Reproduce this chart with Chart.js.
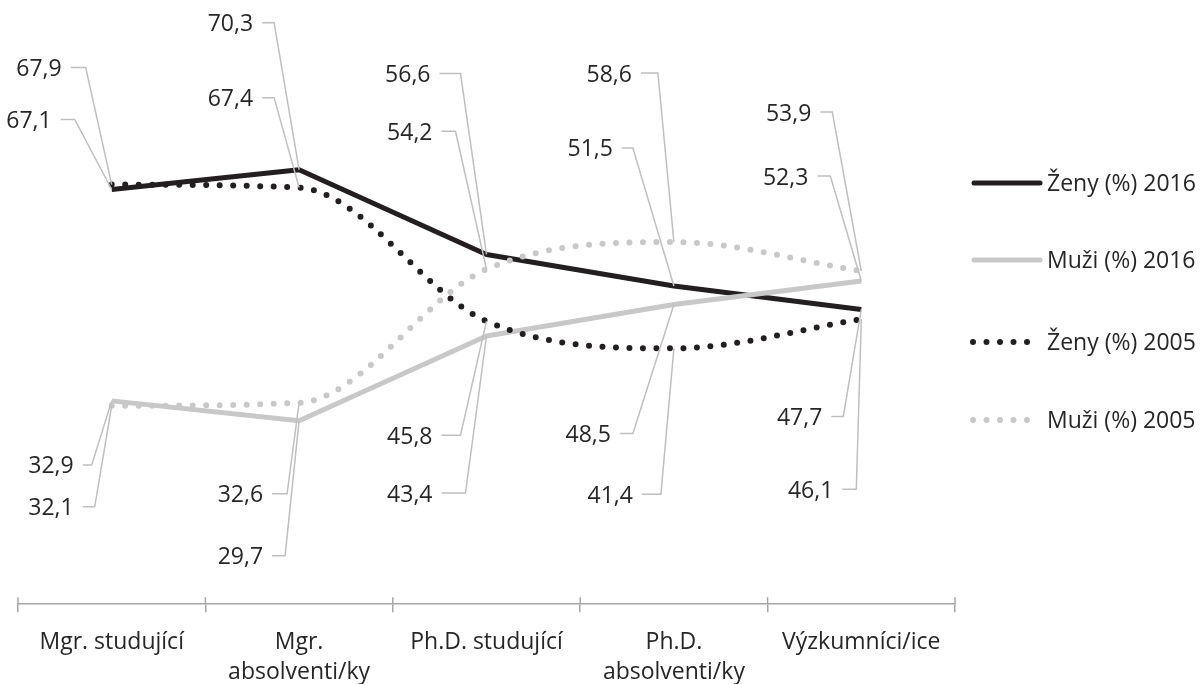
<!DOCTYPE html>
<html>
<head>
<meta charset="utf-8">
<script src="https://cdn.jsdelivr.net/npm/chart.js@4.4.1/dist/chart.umd.min.js"></script>
<style>
  html, body { margin: 0; padding: 0; background: #fff; }
  #wrap { width: 1204px; height: 684px; }
</style>
</head>
<body>
<div id="wrap"><canvas id="genderChart"></canvas></div>
<script>
const categories = [
    'Mgr. studující',
    ['Mgr.', 'absolventi/ky'],
    'Ph.D. studující',
    ['Ph.D.', 'absolventi/ky'],
    'Výzkumníci/ice'
];
const zeny2016 = [67.1, 70.3, 56.6, 51.5, 47.7];
const muzi2016 = [32.9, 29.7, 43.4, 48.5, 52.3];
const zeny2005 = [67.9, 67.4, 45.8, 41.4, 46.1];
const muzi2005 = [32.1, 32.6, 54.2, 58.6, 53.9];

const BLACK = '#231f20';
const GREY = '#c8c8c8';
const TEXT = '#262626';
const LEADER = '#bfbfbf';
const FONT = '"Open Sans", sans-serif';

// label placement relative to the point: text right edge, leader y, elbow x
const labelLayout = [
    [2, 0, -50, -117, -26], [0, 0, -60, -70, -37], [1, 0, -38, 64, -20], [3, 0, -38, 101, -17],
    [0, 1, -46, -147, -25], [2, 1, -46, -90, -25], [3, 1, -36, 91, -12], [1, 1, -36, 135, -14],
    [0, 2, -56, -181, -26], [3, 2, -54, -138, -31], [2, 2, -54, 114, -26], [1, 2, -54, 157, -21],
    [3, 3, -42, -169, -16], [0, 3, -61, -138, -41], [1, 3, -63, 129, -41], [2, 3, -41, 146, -13],
    [3, 4, -50, -159, -29], [1, 4, -53, -105, -31], [0, 4, -39, 107, -18], [2, 4, -28, 170, -5]
];

const legendRows = [183, 260, 342, 420];

const leaderLabels = {
    id: 'leaderLabels',
    afterDatasetsDraw(chart) {
        const ctx = chart.ctx;
        ctx.save();
        ctx.font = '23px ' + FONT;
        ctx.textAlign = 'right';
        ctx.textBaseline = 'middle';
        labelLayout.forEach(([ds, i, dx, dy, ex]) => {
            const pt = chart.getDatasetMeta(ds).data[i];
            const value = chart.data.datasets[ds].data[i];
            const tx = pt.x + dx;
            const ly = pt.y + dy;
            ctx.strokeStyle = LEADER;
            ctx.lineWidth = 1.5;
            ctx.beginPath();
            ctx.moveTo(tx + 9, ly);
            ctx.lineTo(pt.x + ex, ly);
            ctx.lineTo(pt.x, pt.y);
            ctx.stroke();
            ctx.fillStyle = TEXT;
            ctx.fillText(value.toFixed(1).replace('.', ','), tx, ly + 2);
        });
        ctx.restore();
    }
};

const sideLegend = {
    id: 'sideLegend',
    afterDraw(chart) {
        const ctx = chart.ctx;
        ctx.save();
        chart.data.datasets.forEach((ds, k) => {
            const y = legendRows[k];
            const dotted = !!ds.borderDash;
            ctx.strokeStyle = ds.borderColor;
            ctx.lineWidth = ds.borderWidth;
            ctx.lineCap = 'round';
            ctx.setLineDash(ds.borderDash || []);
            ctx.beginPath();
            ctx.moveTo(dotted ? 973 : 974, y);
            ctx.lineTo(dotted ? 1030 : 1040, y);
            ctx.stroke();
            ctx.setLineDash([]);
            ctx.fillStyle = TEXT;
            ctx.font = '23px ' + FONT;
            ctx.textAlign = 'left';
            ctx.textBaseline = 'middle';
            ctx.fillText(ds.label, 1047, y + 1);
        });
        ctx.restore();
    }
};

// short tick marks above the category axis line
const upperTicks = {
    id: 'upperTicks',
    afterDraw(chart) {
        const x = chart.scales.x;
        const ctx = chart.ctx;
        ctx.save();
        ctx.strokeStyle = '#a6a6a6';
        ctx.lineWidth = 1.5;
        for (let i = 0; i <= categories.length; i++) {
            const px = x.getPixelForValue(i - 0.5);
            ctx.beginPath();
            ctx.moveTo(px, x.top);
            ctx.lineTo(px, x.top - 7);
            ctx.stroke();
        }
        ctx.restore();
    }
};

function createChart() {
    const ctx = document.getElementById('genderChart').getContext('2d');
    new Chart(ctx, {
        type: 'line',
        data: {
            labels: categories,
            datasets: [
                { label: 'Ženy (%) 2016', data: zeny2016, borderColor: BLACK, borderWidth: 5, tension: 0, order: 4 },
                { label: 'Muži (%) 2016', data: muzi2016, borderColor: GREY, borderWidth: 5, tension: 0, order: 3 },
                { label: 'Ženy (%) 2005', data: zeny2005, borderColor: BLACK, borderWidth: 6, borderDash: [0, 13.5], borderCapStyle: 'round', cubicInterpolationMode: 'monotone', order: 2 },
                { label: 'Muži (%) 2005', data: muzi2005, borderColor: GREY, borderWidth: 6, borderDash: [0, 13.5], borderCapStyle: 'round', cubicInterpolationMode: 'monotone', order: 1 }
            ]
        },
        options: {
            responsive: true,
            maintainAspectRatio: false,
            animation: false,
            layout: { padding: { left: 18, right: 249, top: 48, bottom: -18 } },
            elements: { point: { radius: 0, hoverRadius: 0 }, line: { borderJoinStyle: 'round' } },
            plugins: { legend: { display: false }, tooltip: { enabled: false } },
            scales: {
                x: {
                    offset: true,
                    grid: { offset: true, drawOnChartArea: false, tickLength: 8, color: '#a6a6a6', lineWidth: 1.5 },
                    border: { color: '#a6a6a6', width: 1.5 },
                    ticks: { color: TEXT, padding: 15, maxRotation: 0, autoSkip: false, font: { family: FONT, size: 23, lineHeight: 1.3 } }
                },
                y: { display: false, min: 0, max: 90 }
            }
        },
        plugins: [leaderLabels, sideLegend, upperTicks]
    });
}

document.addEventListener('DOMContentLoaded', createChart);
</script>
</body>
</html>
